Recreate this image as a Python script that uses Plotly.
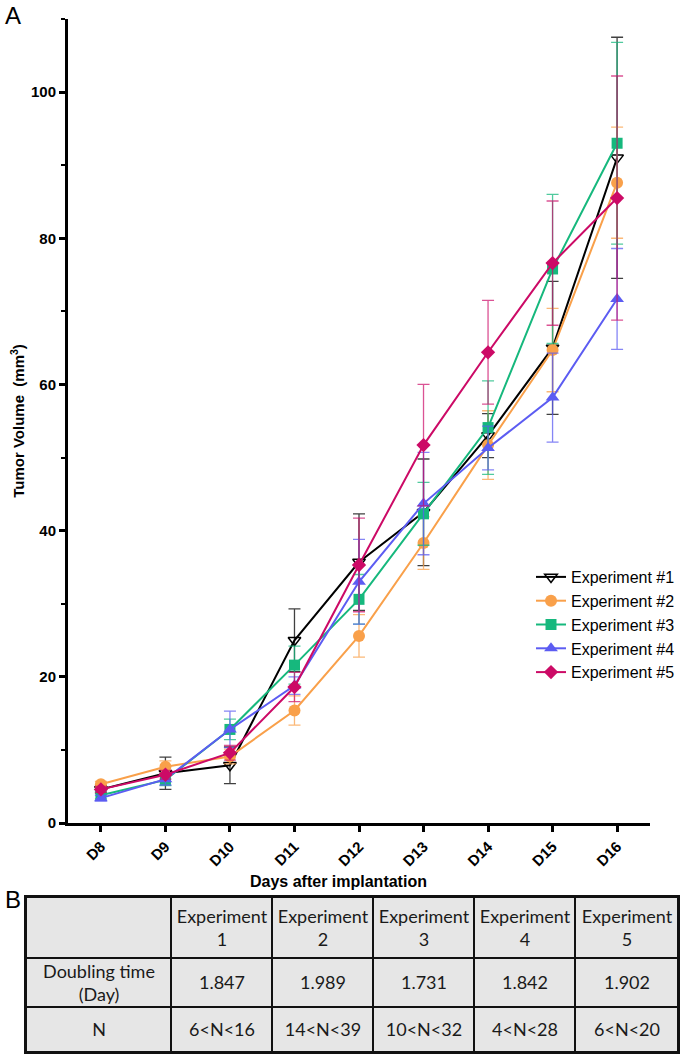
import plotly.graph_objects as go

days = ["D8", "D9", "D10", "D11", "D12", "D13", "D14", "D15", "D16"]
names = ["Experiment #1", "Experiment #2", "Experiment #3", "Experiment #4", "Experiment #5"]

exp1 = [4.6, 6.8, 7.9, 25.0, 35.7, 42.5, 53.0, 65.0, 91.0]
exp1_err = [0.5, 2.2, 2.5, 4.3, 6.6, 7.3, 3.0, 9.1, 16.5]
exp2 = [5.3, 7.7, 9.1, 15.4, 25.6, 38.3, 51.7, 64.7, 87.6]
exp2_err = [0.4, 0.8, 1.0, 2.0, 2.9, 3.6, 4.7, 5.7, 7.6]
exp3 = [3.8, 5.9, 12.8, 21.6, 30.6, 42.3, 54.1, 75.8, 93.0]
exp3_err = [0.5, 0.8, 1.4, 2.6, 3.4, 4.3, 6.4, 10.2, 13.8]
exp4 = [3.4, 6.0, 12.8, 18.8, 33.0, 43.7, 51.3, 58.2, 71.7]
exp4_err = [0.4, 0.8, 2.5, 1.2, 5.8, 7.0, 3.0, 6.1, 6.9]
exp5 = [4.6, 6.6, 9.6, 18.6, 35.3, 51.7, 64.4, 76.6, 85.5]
exp5_err = [0.4, 0.6, 1.0, 2.0, 6.4, 8.3, 7.1, 8.5, 16.7]

series = [exp1, exp2, exp3, exp4, exp5]
errors = [exp1_err, exp2_err, exp3_err, exp4_err, exp5_err]
colors = ["#000000", "#F9A04A", "#16B87D", "#5C5CF2", "#CC0A66"]
err_colors = ["rgba(0,0,0,0.75)", "rgba(249,160,74,0.75)", "rgba(22,184,125,0.75)",
              "rgba(92,92,242,0.75)", "rgba(204,10,102,0.7)"]
symbols = ["triangle-down-open", "circle", "square", "triangle-up", "diamond"]
msizes = [11, 12, 11, 12, 11]

# table content
table_header = ["", "Experiment<br>1", "Experiment<br>2", "Experiment<br>3",
                "Experiment<br>4", "Experiment<br>5"]
row_labels = ["Doubling time<br>(Day)", "N"]
doubling = ["1.847", "1.989", "1.731", "1.842", "1.902"]
n_ranges = ["6<N<16", "14<N<39", "10<N<32", "4<N<28", "6<N<20"]
# relative column / row sizes of the table
col_edges = [0, 145, 246, 347, 448, 549, 652]
row_edges = [0, 61, 110, 155]

W, H = 682, 1054
font_main = "Liberation Sans, Arial, sans-serif"
font_tab = "Lato, Carlito, sans-serif"

fig = go.Figure()
for i in range(5):
    fig.add_trace(go.Scatter(
        x=days, y=series[i], name=names[i], mode="lines+markers",
        line=dict(color=colors[i], width=2),
        marker=dict(symbol=symbols[i], size=msizes[i], color=colors[i],
                    line=dict(width=1.5 if i == 0 else 0, color=colors[i])),
        error_y=dict(type="data", array=errors[i], visible=True,
                     color=err_colors[i], thickness=1.3, width=6),
    ))

# table drawn as a uniform heatmap with gaps (borders) and cell text
table_text = [table_header,
              [row_labels[0]] + doubling,
              [row_labels[1]] + n_ranges]
table_z = [[0] * 6 for _ in range(3)]
fig.add_trace(go.Heatmap(
    x=col_edges, y=row_edges, z=table_z, text=table_text,
    texttemplate="%{text}", textfont=dict(family=font_tab, size=18, color="#1a1a1a"),
    colorscale=[[0, "#E6E6E6"], [1, "#E6E6E6"]], showscale=False,
    xgap=2, ygap=2, hoverinfo="skip", showlegend=False,
    xaxis="x2", yaxis="y2",
))

fig.update_layout(
    width=W, height=H,
    margin=dict(l=0, r=0, t=0, b=0),
    paper_bgcolor="white", plot_bgcolor="white",
    font=dict(family=font_main, color="#000000"),
    showlegend=True,
    legend=dict(x=531 / W, y=(H - 560) / H, xanchor="left", yanchor="top",
                bgcolor="rgba(0,0,0,0)", font=dict(size=16, family=font_main),
                itemwidth=30, tracegroupgap=0),
    annotations=[
        dict(text="A", x=3 / W, y=1.0, xref="paper", yref="paper",
             xanchor="left", yanchor="top", showarrow=False,
             font=dict(size=24, family=font_main)),
        dict(text="B", x=3 / W, y=(H - 884) / H, xref="paper", yref="paper",
             xanchor="left", yanchor="top", showarrow=False,
             font=dict(size=24, family=font_main)),
        dict(text="Days after implantation", x=338 / W, y=(H - 881) / H,
             xref="paper", yref="paper", xanchor="center", yanchor="middle",
             showarrow=False, font=dict(size=16, family=font_main, weight="bold")),
    ],
    shapes=[dict(type="rect", xref="x2 domain", yref="y2 domain", x0=0, x1=1, y0=0, y1=1,
                 fillcolor="#111111", line=dict(width=0), layer="below")],
    xaxis=dict(
        domain=[68 / W, 650 / W], range=[-0.51, 8.51], type="category",
        showline=True, linecolor="black", linewidth=3, mirror=False,
        ticks="outside", ticklen=6, tickwidth=2.5, tickcolor="black",
        tickangle=-45, tickfont=dict(size=15, family=font_main, weight="bold"),
        showgrid=False, zeroline=False,
        automargin=False, anchor="y",
    ),
    yaxis=dict(
        domain=[(H - 823) / H, (H - 19) / H], range=[0, 110],
        tickvals=[0, 20, 40, 60, 80, 100],
        showline=True, linecolor="black", linewidth=3,
        ticks="outside", ticklen=6, tickwidth=2.5, tickcolor="black",
        minor=dict(ticks="outside", ticklen=4, tickwidth=2, tickcolor="black",
                   dtick=10, tick0=0),
        tickfont=dict(size=15, family=font_main, weight="bold"),
        showgrid=False, zeroline=False,
        title=dict(text="Tumor Volume  (mm<sup>3</sup>)", standoff=3,
                   font=dict(size=15, family=font_main, weight="bold")),
        automargin=False, anchor="x",
    ),
    xaxis2=dict(domain=[26 / W, 678 / W], anchor="y2", range=[0, 652],
                showline=True, mirror=True, linecolor="#111111", linewidth=2,
                showticklabels=False, ticks="", showgrid=False, zeroline=False,
                fixedrange=True),
    yaxis2=dict(domain=[(H - 1052) / H, (H - 897) / H], anchor="x2", range=[155, 0],
                showline=True, mirror=True, linecolor="#111111", linewidth=2,
                showticklabels=False, ticks="", showgrid=False, zeroline=False,
                fixedrange=True),
)

fig.write_html("out.html", config={"displayModeBar": False},
               post_script="document.body.style.margin='0px';")
